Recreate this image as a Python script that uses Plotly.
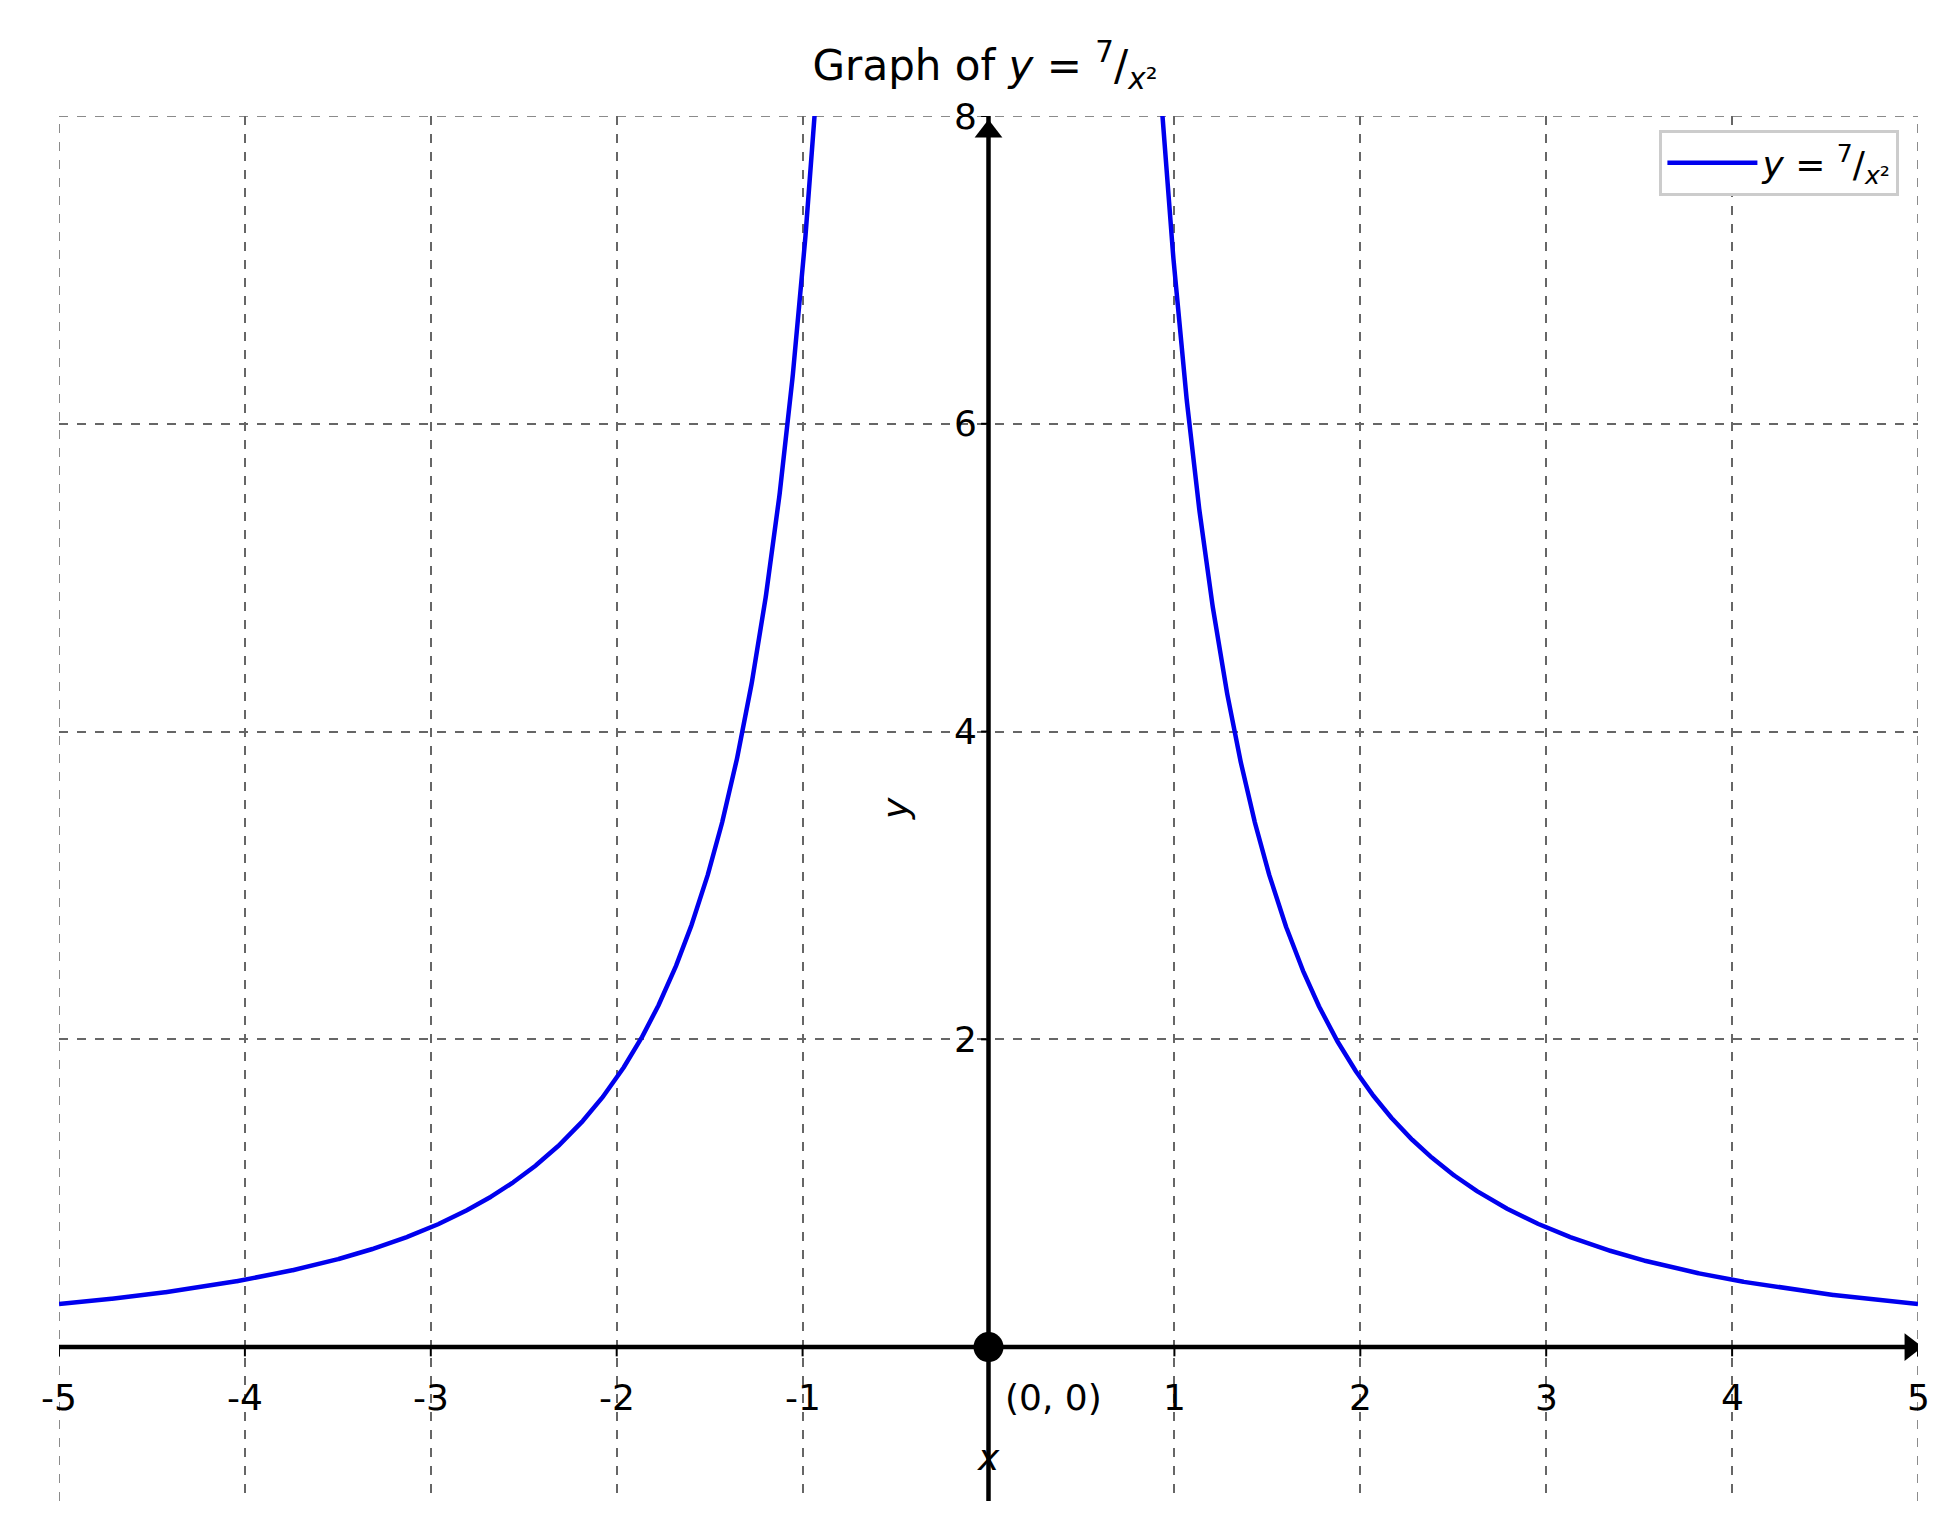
import numpy as np
import plotly.graph_objects as go

coef = 7
x_ticks = [-5, -4, -3, -2, -1, 1, 2, 3, 4, 5]
y_ticks = [2, 4, 6, 8]
x_left = np.linspace(-5, -0.93, 1500)
x_right = np.linspace(0.93, 5, 1500)

fig = go.Figure()
xs = np.concatenate([x_left, [np.nan], x_right])
ys = coef / xs**2
fig.add_trace(go.Scatter(x=xs, y=ys, mode="lines", line=dict(color="#0000ee", width=4.5),
                         name="<i>y</i> = <sup>7</sup>/<sub><i>x</i>²</sub>"))

grid = dict(color="#666666", width=1.5, dash="dash")
fig.add_shape(type="line", x0=-5, x1=5, y0=8, y1=8, line=grid, layer="below")
for xv in [-5, 5]:
    fig.add_shape(type="line", x0=xv, x1=xv, y0=-1, y1=8, line=grid, layer="below")

# axes spines
fig.add_shape(type="line", x0=-5, x1=5, y0=0, y1=0, line=dict(color="black", width=4.5))
fig.add_shape(type="line", x0=0, x1=0, y0=-1, y1=8, line=dict(color="black", width=4.5))
for t in x_ticks:
    fig.add_shape(type="line", x0=t, x1=t, y0=0, y1=-0.06, line=dict(color="black", width=2))
for t in y_ticks:
    fig.add_shape(type="line", x0=0, x1=-0.04, y0=t, y1=t, line=dict(color="black", width=2))
fig.add_trace(go.Scatter(x=[4.96], y=[0], mode="markers", showlegend=False,
                         marker=dict(symbol="triangle-right", size=24, color="black")))
fig.add_trace(go.Scatter(x=[0], y=[7.9], mode="markers", showlegend=False,
                         marker=dict(symbol="triangle-up", size=24, color="black")))
fig.add_trace(go.Scatter(x=[0], y=[0], mode="markers", showlegend=False,
                         marker=dict(symbol="circle", size=30, color="black")))

f = dict(family="DejaVu Sans", size=36, color="black")
for t in x_ticks:
    fig.add_annotation(x=t, y=0, text=str(t), showarrow=False, yshift=-50, font=f)
for t in y_ticks:
    fig.add_annotation(x=0, y=t, text=str(t), showarrow=False, xanchor="right", xshift=-10, font=f)
fig.add_annotation(x=0.08, y=0, text="(0, 0)", showarrow=False, xanchor="left", yshift=-50, font=f)
fig.add_annotation(x=0, y=0, text="<i>x</i>", showarrow=False, yshift=-110, font=f)
fig.add_annotation(x=-0.5, y=3.5, text="<i>y</i>", showarrow=False, textangle=-90, font=f)

fig.update_layout(
    width=1954, height=1523, plot_bgcolor="white", paper_bgcolor="white",
    margin=dict(l=51, r=44, t=108, b=30),
    title=dict(text="Graph of <i>y</i> = <sup>7</sup>/<sub><i>x</i>²</sub>", x=0.5, xanchor="center",
               y=0.972, font=dict(family="DejaVu Sans", size=42, color="black")),
    legend=dict(x=0.99, y=0.99, xanchor="right", yanchor="top", bordercolor="#cccccc",
                borderwidth=3, font=dict(family="DejaVu Sans", size=36, color="black"),
                bgcolor="white", itemwidth=90),
    xaxis=dict(range=[-5, 5], dtick=1, showticklabels=False, zeroline=False,
               showgrid=True, gridcolor="#666666", griddash="dash", gridwidth=1.5),
    yaxis=dict(range=[-1, 8], tickvals=[0, 2, 4, 6, 8], showticklabels=False, zeroline=False,
               showgrid=True, gridcolor="#666666", griddash="dash", gridwidth=1.5),
)
fig.write_html("out.html")
